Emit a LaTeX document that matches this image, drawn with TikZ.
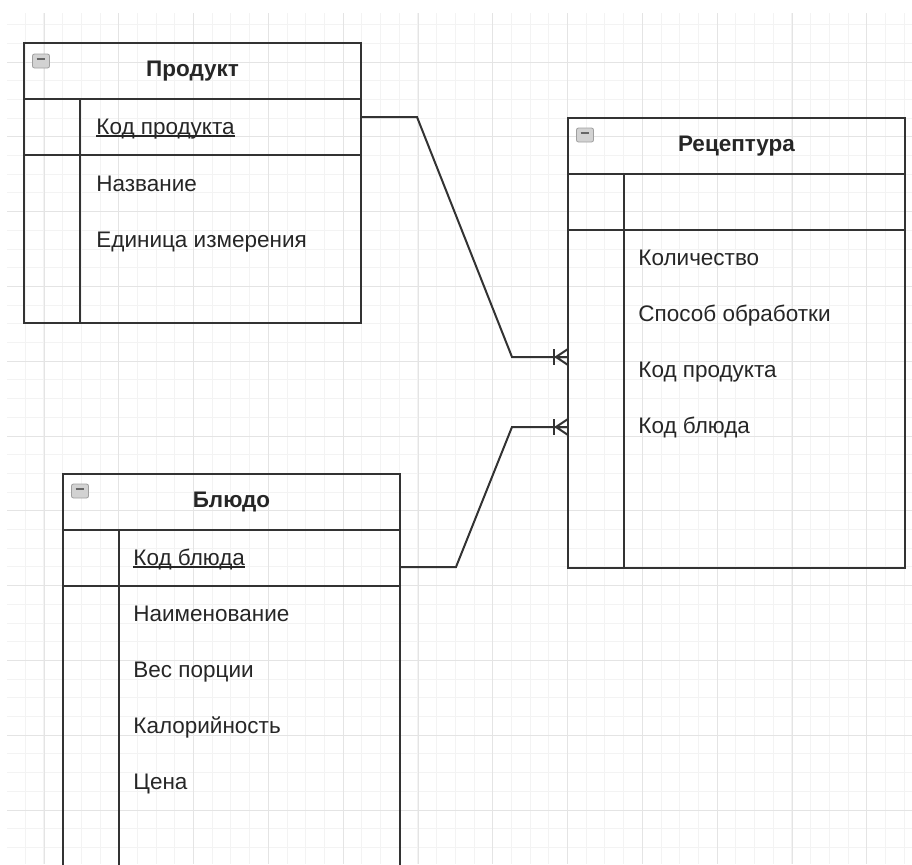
\documentclass[tikz,border=0pt]{standalone}
\usepackage{fontspec}
\setmainfont{Liberation Sans}
\usetikzlibrary{positioning}
\definecolor{linec}{HTML}{333333}
\definecolor{gridlo}{HTML}{F3F3F3}
\definecolor{gridhi}{HTML}{E4E4E4}
\newcommand{\keyfield}[1]{\setbox0\hbox{#1}\rlap{\rule[-1.3pt]{\wd0}{0.8pt}}\box0}

\begin{document}
\begin{tikzpicture}[x=0.5pt, y=-0.5pt,
  every node/.style={font=\fontsize{11.25}{13.5}\selectfont, text=black!85},
  cell/.style={draw=linec, line width=1pt, minimum width=168.5pt, inner sep=0pt, outer sep=0pt},
  head/.style={cell, minimum height=28pt, anchor=north west, font=\fontsize{11.25}{13.5}\selectfont\bfseries},
  keyrow/.style={cell, minimum height=28pt},
  field/.style={anchor=base west, inner sep=0pt},
  tline/.style={draw=linec, line width=1pt},
  conn/.style={draw=linec, line width=1pt},
  minus/.style={draw=gray!75, fill=gray!35, rounded corners=1pt, minimum width=8.5pt,
    minimum height=7pt, inner sep=0pt,
    path picture={\draw[black!60, line width=0.7pt]
      ([xshift=-2.2pt,yshift=1pt]path picture bounding box.center) --
      ([xshift=2.2pt,yshift=1pt]path picture bounding box.center);}}]

  \newcommand{\crowfoot}[1]{%
    \draw[conn] (#1) ++(-14,-8) -- ++(0,16);
    \draw[conn] (#1) ++(-12,0) -- ++(12,-8) (#1) ++(-12,0) -- ++(12,8) (#1) ++(-12,0) -- (#1);}

  \useasboundingbox (0,0) rectangle (912,864);

  % grid
  \begin{scope}
    \clip (7,13) rectangle (912,864);
    \foreach \x in {6.5,25.2,...,912} \draw[gridlo, line width=0.5pt] (\x,0) -- (\x,864);
    \foreach \y in {5.9,24.6,...,864} \draw[gridlo, line width=0.5pt] (0,\y) -- (912,\y);
    \foreach \x in {44,118.8,...,912} \draw[gridhi, line width=0.5pt] (\x,0) -- (\x,864);
    \foreach \y in {62,136.8,...,864} \draw[gridhi, line width=0.5pt] (0,\y) -- (912,\y);
  \end{scope}

  % Продукт
  \node[head] (prodhead) at (24,43) {Продукт};
  \node[keyrow, below=0pt of prodhead] (prodkey) {};
  \node[cell, minimum height=84pt, below=0pt of prodkey] (prodbody) {};
  \draw[tline] ([xshift=28pt]prodkey.north west) -- ([xshift=28pt]prodbody.south west);
  \node[minus] at ([shift={(8.5pt,-9pt)}]prodhead.north west) {};
  \node[field] (prodf1) at (96,134) {\keyfield{Код продукта}};
  \node[field] (prodf2) at (96,191) {Название};
  \node[field] (prodf3) at (96,247) {Единица измерения};

  % Рецептура
  \node[head] (rechead) at (568,118) {Рецептура};
  \node[keyrow, below=0pt of rechead] (reckey) {};
  \node[cell, minimum height=169pt, below=0pt of reckey] (recbody) {};
  \draw[tline] ([xshift=28pt]reckey.north west) -- ([xshift=28pt]recbody.south west);
  \node[minus] at ([shift={(8.5pt,-8.5pt)}]rechead.north west) {};
  \foreach \t [count=\i] in {Количество, Способ обработки, Код продукта, Код блюда}
    \node[field] (recf\i) at (638,{265+56*(\i-1)}) {\t};

  % Блюдо
  \node[head] (dishhead) at (63,474) {Блюдо};
  \node[keyrow, below=0pt of dishhead] (dishkey) {};
  \node[cell, minimum height=147pt, below=0pt of dishkey] (dishbody) {};
  \draw[tline] ([xshift=28pt]dishkey.north west) -- ([xshift=28pt]dishbody.south west);
  \node[minus] at ([shift={(8.5pt,-8.5pt)}]dishhead.north west) {};
  \node[field] (dishf1) at (133,565) {\keyfield{Код блюда}};
  \foreach \t [count=\i from 2] in {Наименование, Вес порции, Калорийность, Цена}
    \node[field] (dishf\i) at (133,{565+56*(\i-1)}) {\t};

  % связи
  \coordinate (inprod) at (568,357);
  \coordinate (indish) at (568,427);
  \draw[conn] ([yshift=5pt]prodkey.east) -- ++(56,0) -- (512,357) -- (inprod);
  \draw[conn] ([yshift=-4.5pt]dishkey.east) -- ++(56,0) -- (512,427) -- (indish);
  \crowfoot{inprod}
  \crowfoot{indish}

\end{tikzpicture}
\end{document}
